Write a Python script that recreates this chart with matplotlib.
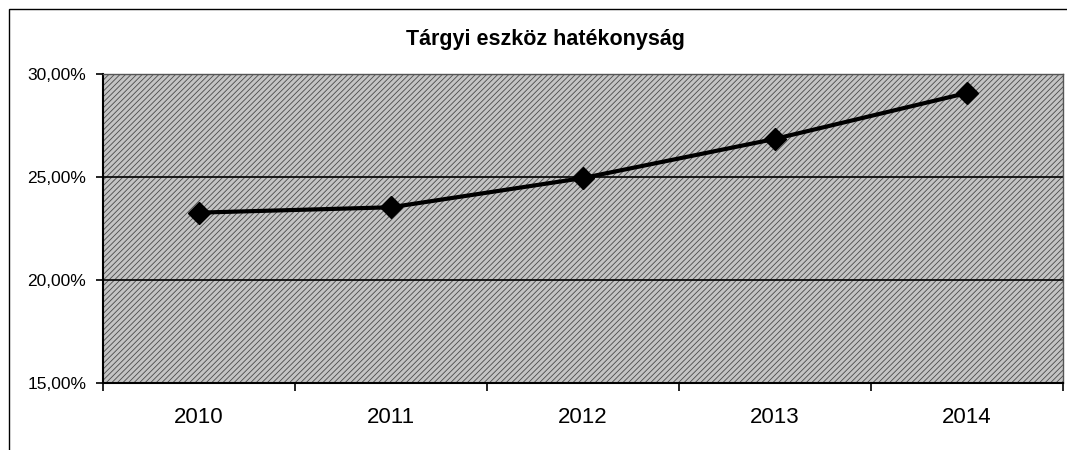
import matplotlib
matplotlib.use("Agg")
import matplotlib.pyplot as plt
from matplotlib.patches import Rectangle
from matplotlib.ticker import FuncFormatter, MultipleLocator

years = ["2010", "2011", "2012", "2013", "2014"]
values = [23.27, 23.53, 24.95, 26.85, 29.08]
title = "Tárgyi eszköz hatékonyság"

plt.rcParams['font.family'] = ['Liberation Sans', 'DejaVu Sans']
plt.rcParams['hatch.linewidth'] = 0.6
plt.rcParams['hatch.color'] = '#3a3a3a'

fig = plt.figure(figsize=(10.67, 4.5), dpi=100)
fig.patch.set_facecolor('white')
# outer chart border
fig.patches.append(Rectangle((9/1067, -0.01), 1.02, 1 - 9/450 + 0.01, transform=fig.transFigure,
                             fill=False, edgecolor='black', linewidth=1.0))

ax = fig.add_axes([103/1067, 1 - 383/450, 960/1067, 309/450])
ax.set_facecolor('#c4c4c4')
ax.add_patch(Rectangle((0, 0), 1, 1, transform=ax.transAxes, facecolor='#c4c4c4',
                       hatch='//////', edgecolor='#4a4a4a', linewidth=0, zorder=0))

x = list(range(len(years)))
ax.plot(x, values, color='black', linewidth=3, marker='D', markersize=11,
        markerfacecolor='black', markeredgecolor='black', zorder=3)

ax.set_xlim(-0.5, len(years) - 0.5)
ax.set_ylim(15, 30)
ax.yaxis.set_major_locator(MultipleLocator(5))
ax.yaxis.set_major_formatter(FuncFormatter(lambda v, p: f"{v:.2f}%".replace('.', ',')))
for yv in [20, 25]:
    ax.axhline(yv, color='black', linewidth=1.2, zorder=2)

ax.set_xticks([i + 0.5 for i in range(-1, len(years))])
ax.set_xticklabels([])
ax.set_xticks(x, minor=True)
ax.set_xticklabels(years, minor=True, fontsize=16)
ax.tick_params(axis='x', which='minor', length=0, pad=17)
ax.tick_params(axis='x', which='major', length=6, width=1.2, direction='out')
ax.tick_params(axis='y', length=5, width=1.2, direction='out', labelsize=12.5, pad=7)

for s in ['left', 'bottom']:
    ax.spines[s].set_linewidth(1.5)
    ax.spines[s].set_color('black')
for s in ['top', 'right']:
    ax.spines[s].set_linewidth(1.0)
    ax.spines[s].set_color('#555555')

fig.text(545/1067, 1 - 39/450, title, ha='center', va='center', fontsize=15.5, fontweight='bold')

fig.savefig('out.png', dpi=100)
